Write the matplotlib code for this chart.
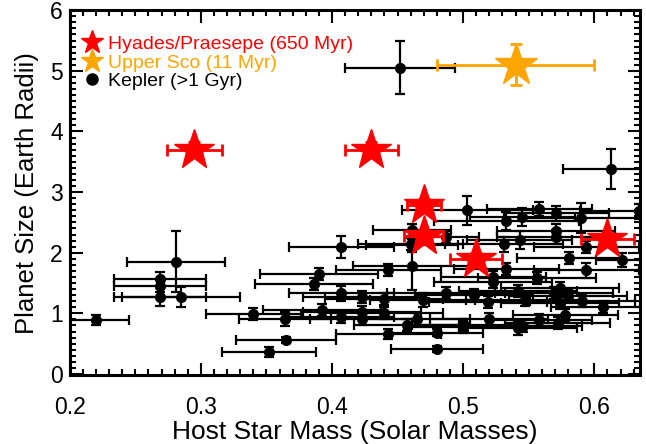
import matplotlib
matplotlib.use("Agg")
import matplotlib.pyplot as plt
from matplotlib.lines import Line2D
from matplotlib.ticker import MultipleLocator
import numpy as np

plt.rcParams['font.family'] = ['Liberation Sans', 'DejaVu Sans']

# Kepler planets (>1 Gyr): host mass, mass err, radius, radius err
kep_mass = [0.220, 0.269, 0.269, 0.269, 0.281, 0.285, 0.340, 0.364, 0.365, 0.352,
            0.452, 0.613, 0.503, 0.533, 0.545, 0.558, 0.571, 0.590, 0.634, 0.461,
            0.487, 0.531, 0.543, 0.571, 0.571, 0.460, 0.594, 0.581, 0.621, 0.594,
            0.533, 0.523, 0.556, 0.407, 0.461, 0.390, 0.443, 0.461, 0.386, 0.407,
            0.423, 0.440, 0.469, 0.487, 0.392, 0.407, 0.423, 0.423, 0.440, 0.457,
            0.465, 0.443, 0.480, 0.480, 0.500, 0.523, 0.508, 0.519, 0.542, 0.547,
            0.569, 0.574, 0.580, 0.574, 0.591, 0.607, 0.578, 0.558, 0.572, 0.520,
            0.501, 0.542, 0.546]
kep_mass_err = [0.025, 0.035, 0.035, 0.035, 0.037, 0.045, 0.036, 0.035, 0.038, 0.036,
                0.042, 0.037, 0.050, 0.055, 0.040, 0.040, 0.040, 0.045, 0.045, 0.030,
                0.025, 0.045, 0.040, 0.045, 0.045, 0.040, 0.040, 0.040, 0.020, 0.040,
                0.040, 0.040, 0.045, 0.040, 0.035, 0.045, 0.040, 0.045, 0.045, 0.040,
                0.045, 0.045, 0.040, 0.045, 0.045, 0.040, 0.045, 0.040, 0.045, 0.040,
                0.040, 0.040, 0.035, 0.035, 0.045, 0.045, 0.045, 0.045, 0.045, 0.045,
                0.045, 0.045, 0.045, 0.045, 0.040, 0.040, 0.040, 0.040, 0.040, 0.045,
                0.040, 0.045, 0.045]
kep_rad = [0.89, 1.56, 1.45, 1.27, 1.85, 1.27, 0.99, 0.91, 0.56, 0.36,
           5.05, 3.38, 2.70, 2.52, 2.59, 2.72, 2.65, 2.57, 2.68, 2.37,
           2.26, 2.14, 2.21, 2.36, 2.26, 2.14, 2.09, 1.91, 1.88, 1.71,
           1.73, 1.60, 1.58, 2.09, 2.12, 1.65, 1.71, 1.78, 1.48, 1.33,
           1.27, 1.24, 1.22, 1.33, 1.05, 0.94, 1.02, 0.91, 1.00, 0.81,
           0.91, 0.66, 0.68, 0.41, 0.78, 1.52, 1.30, 1.19, 1.37, 1.22,
           1.34, 1.42, 1.29, 1.17, 1.20, 1.10, 0.97, 0.89, 0.84, 0.91,
           0.81, 0.76, 0.79]
kep_rad_err = [0.08, 0.12, 0.10, 0.15, 0.50, 0.17, 0.10, 0.12, 0.05, 0.08,
               0.44, 0.33, 0.24, 0.15, 0.15, 0.12, 0.12, 0.25, 0.12, 0.10,
               0.10, 0.12, 0.15, 0.12, 0.12, 0.10, 0.10, 0.10, 0.12, 0.12,
               0.10, 0.10, 0.10, 0.18, 0.10, 0.10, 0.10, 0.40, 0.10, 0.12,
               0.10, 0.10, 0.12, 0.10, 0.10, 0.10, 0.10, 0.10, 0.10, 0.10,
               0.10, 0.08, 0.06, 0.05, 0.10, 0.10, 0.10, 0.10, 0.10, 0.10,
               0.10, 0.10, 0.10, 0.10, 0.10, 0.10, 0.10, 0.10, 0.10, 0.10,
               0.10, 0.12, 0.10]

# Hyades/Praesepe (650 Myr)
hp_mass = [0.295, 0.430, 0.470, 0.470, 0.510, 0.610]
hp_mass_err = [0.021, 0.020, 0.013, 0.015, 0.020, 0.020]
hp_rad = [3.70, 3.70, 2.78, 2.27, 1.90, 2.22]
hp_rad_err = [0.12, 0.12, 0.10, 0.10, 0.10, 0.10]

# Upper Sco (11 Myr)
us_mass = [0.540]
us_mass_err = [0.060]
us_rad = [5.10]
us_rad_err = [0.34]

red = "#FF0000"
orange = "#FFA500"

fig = plt.figure(figsize=(6.46, 4.44), dpi=100)
ax = fig.add_axes([0.108, 0.155, 0.883, 0.822])

ax.errorbar(kep_mass, kep_rad, xerr=kep_mass_err, yerr=kep_rad_err, fmt="o",
            color="black", ms=7, elinewidth=1.6, capsize=3.5, capthick=1.6, zorder=2)
ax.errorbar(hp_mass, hp_rad, xerr=hp_mass_err, yerr=hp_rad_err, fmt="*",
            color=red, ms=30, elinewidth=2, capsize=4, capthick=2, zorder=3)
ax.errorbar(us_mass, us_rad, xerr=us_mass_err, yerr=us_rad_err, fmt="*",
            color=orange, ms=32, elinewidth=2, capsize=4, capthick=2, zorder=4)

ax.set_xlim(0.2, 0.635)
ax.set_ylim(-0.02, 6)
ax.xaxis.set_major_locator(MultipleLocator(0.1))
ax.xaxis.set_minor_locator(MultipleLocator(0.01))
ax.yaxis.set_major_locator(MultipleLocator(1))
ax.yaxis.set_minor_locator(MultipleLocator(0.1))
ax.tick_params(which="both", direction="in", top=True, right=True, width=1.5)
ax.tick_params(which="major", length=9, labelsize=16.5)
ax.tick_params(axis="x", which="major", pad=15)
ax.tick_params(axis="y", which="major", pad=5)
ax.tick_params(which="minor", length=4.5)
for s in ax.spines.values():
    s.set_linewidth(2.2)

ax.set_xlabel("Host Star Mass (Solar Masses)", fontsize=19, labelpad=1)
ax.set_ylabel("Planet Size (Earth Radii)", fontsize=18.5, labelpad=8)

handles = [
    Line2D([], [], marker="*", ls="none", color=red, ms=17),
    Line2D([], [], marker="*", ls="none", color=orange, ms=17),
    Line2D([], [], marker="o", ls="none", color="black", ms=8),
]
labels = ["Hyades/Praesepe (650 Myr)", "Upper Sco (11 Myr)", "Kepler (>1 Gyr)"]
ax.legend(handles, labels, loc="upper left", bbox_to_anchor=(-0.015, 0.995),
          frameon=False, fontsize=14,
          labelcolor=[red, orange, "black"], handlelength=0.8, handletextpad=0.4,
          labelspacing=0.05, borderaxespad=0.9, borderpad=0.3)

fig.savefig("out.png", dpi=100)
